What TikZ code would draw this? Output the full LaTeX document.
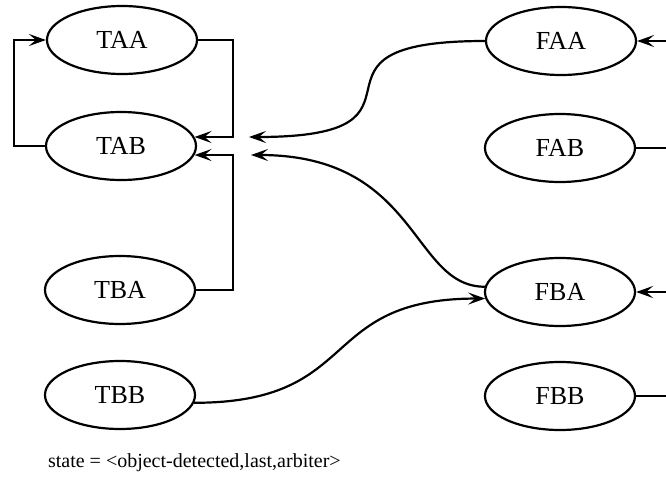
\documentclass[tikz,border=0pt]{standalone}
\usepackage{fontspec}
\setmainfont{Liberation Serif}
\usetikzlibrary{arrows.meta,shapes.geometric}

\begin{document}
\begin{tikzpicture}[x=0.5pt,y=-0.5pt,
        statenode/.style = {draw,ellipse, minimum width=75pt, minimum height=34pt, inner sep=0pt, line width=1.1pt, font=\fontsize{13}{15}\selectfont},
        arr/.style = {line width=1.1pt, -{Stealth[length=8.5pt,width=6pt,inset=3.5pt]}},
        wire/.style = {line width=1.1pt}]
        \useasboundingbox (0,0) rectangle (666,493);

        \node[statenode] (TAA) at (122,40) {TAA};
        \node[statenode] (TAB) at (121,146) {TAB};
        \node[statenode] (TBA) at (120,290) {TBA};
        \node[statenode] (TBB) at (120,395) {TBB};

        \node[statenode] (FAA) at (561,41) {FAA};
        \node[statenode] (FAB) at (560,148) {FAB};
        \node[statenode] (FBA) at (560,292) {FBA};
        \node[statenode] (FBB) at (560,396) {FBB};

        \coordinate (inA) at (249,137);
        \coordinate (inB) at (251,155);
        \coordinate (rAA) at (666,41);
        \coordinate (rAB) at (666,148);
        \coordinate (rBA) at (666,292);
        \coordinate (rBB) at (666,396);

        \draw[arr] (TAB.west) -- ++(-31,0) |- (TAA.west);
        \draw[arr] (TAA.east) -- ++(35,0) |- (TAB.7);
        \draw[arr] (TBA.east) -- ++(37,0) |- (TAB.-7);

        \draw[arr] (FAA.west) to [out=180, in=0, looseness=2.1] (inA);
        \draw[arr] (FBA.176) to [out=180, in=0, out looseness=0.7, in looseness=1.6] (inB);
        \draw[arr] (TBB.-6) to [out=0, in=180, looseness=1.4] (FBA.185);

        \draw[arr] (rAA) -- (FAA.east);
        \draw[arr] (rBA) -- (FBA.east);
        \draw[wire] (FAB.east) -- (rAB);
        \draw[wire] (FBB.east) -- (rBB);

        \node[anchor=west, font=\fontsize{10}{12}\selectfont] (lbl) at (41,463) {state = <object-detected,last,arbiter>};
\end{tikzpicture}
\end{document}
